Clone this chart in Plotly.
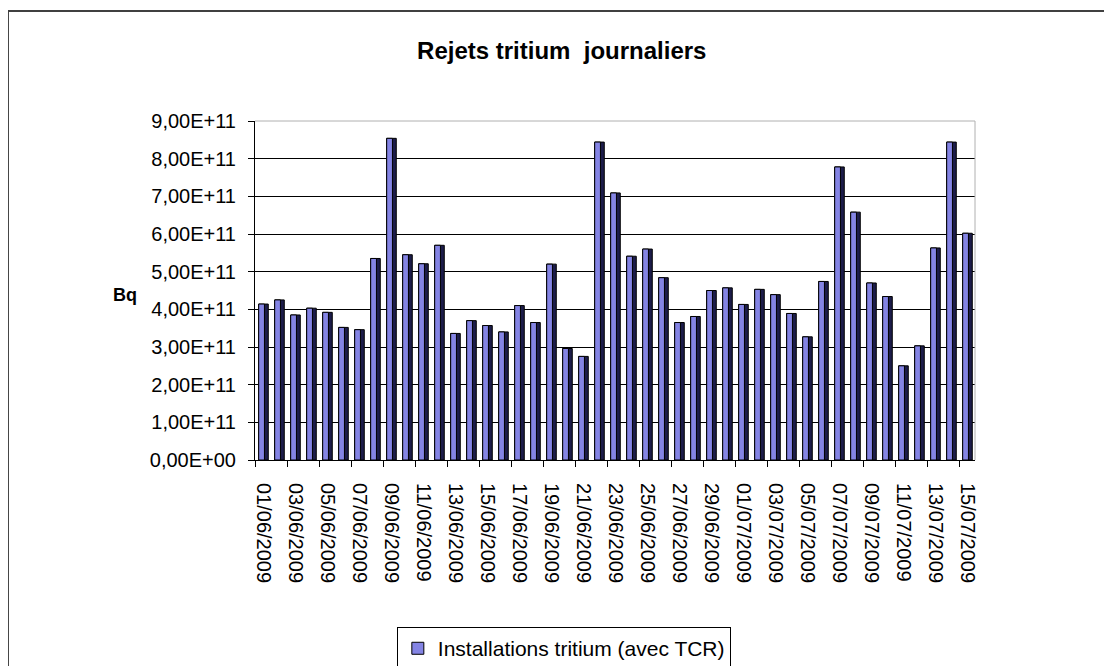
import plotly.graph_objects as go
from datetime import date, timedelta

# ---- data ----
start = date(2009, 6, 1)
dates = [(start + timedelta(days=i)).strftime("%d/%m/%Y") for i in range(45)]
values_e11 = [4.14, 4.25, 3.85, 4.03, 3.92, 3.52, 3.46, 5.35, 8.54, 5.45,
              5.21, 5.70, 3.36, 3.70, 3.57, 3.40, 4.10, 3.65, 5.20, 2.96,
              2.75, 8.44, 7.09, 5.41, 5.60, 4.84, 3.65, 3.81, 4.50, 4.57,
              4.13, 4.53, 4.39, 3.89, 3.27, 4.74, 7.78, 6.58, 4.70, 4.34,
              2.50, 3.03, 5.63, 8.44, 6.02]
values = [v * 1e11 for v in values_e11]
ytick_vals = [i * 1e11 for i in range(10)]
ytick_text = ["0,00E+00", "1,00E+11", "2,00E+11", "3,00E+11", "4,00E+11",
              "5,00E+11", "6,00E+11", "7,00E+11", "8,00E+11", "9,00E+11"]
series_name = "Installations tritium (avec TCR)"
title_text = "Rejets tritium  journaliers"

FONT = "Liberation Sans, Arial, sans-serif"

fig = go.Figure()
# dark side face (3D effect)
fig.add_trace(go.Bar(
    x=dates, y=values, width=0.6, offset=-0.27,
    marker=dict(color="#1c1c4a", line=dict(color="#000000", width=1)),
    showlegend=False, hoverinfo="skip"))
# front face
fig.add_trace(go.Bar(
    x=dates, y=values, width=0.36, offset=-0.27, name=series_name,
    marker=dict(color="#8484e4", line=dict(color="#000000", width=1))))

fig.update_layout(
    width=1112, height=666,
    margin=dict(l=247, r=145, t=113, b=214, autoexpand=False),
    paper_bgcolor="white", plot_bgcolor="white",
    barmode="overlay",
    font=dict(family=FONT, color="black", size=20),
    title=dict(text="<b>" + title_text + "</b>", x=0.498, xref="container",
               xanchor="center", y=1 - 43 / 666, yref="container", yanchor="middle",
               font=dict(family=FONT, size=24, color="black")),
    showlegend=True,
    legend=dict(x=0.197, y=-0.493, xanchor="left", yanchor="top",
                bordercolor="black", borderwidth=1, bgcolor="white",
                font=dict(family=FONT, size=21), itemwidth=30),
    xaxis=dict(type="category", tickmode="linear", tick0=0, dtick=2,
               tickson="boundaries", ticks="outside", ticklen=6,
               tickcolor="black", tickangle=90, showline=True,
               linecolor="black", linewidth=1, showgrid=False,
               tickfont=dict(family=FONT, size=20), ticklabelstandoff=18,
               range=[-0.5, 44.5], automargin=False),
    yaxis=dict(range=[0, 9e11], tickvals=ytick_vals, ticktext=ytick_text,
               ticks="outside", ticklen=6, tickcolor="black",
               showline=True, linecolor="black", linewidth=1,
               showgrid=True, gridcolor="black", gridwidth=1,
               zeroline=False, tickfont=dict(family=FONT, size=20),
               ticklabelstandoff=8, automargin=False),
)

# plot-area border (top and right light grey)
fig.add_shape(type="line", xref="paper", yref="paper", x0=0, x1=1, y0=1, y1=1,
              line=dict(color="#b0b0b0", width=1), layer="above")
fig.add_shape(type="line", xref="paper", yref="paper", x0=1, x1=1, y0=0, y1=1,
              line=dict(color="#b0b0b0", width=1), layer="above")
# outer chart border
fig.add_shape(type="line", xref="paper", yref="paper", x0=-0.3431, x1=1.19,
              y0=1.3245, y1=1.3245, line=dict(color="#404040", width=2))
fig.add_shape(type="line", xref="paper", yref="paper", x0=-0.3431, x1=-0.3431,
              y0=1.3245, y1=-0.8, line=dict(color="#404040", width=2))
fig.add_shape(type="line", xref="paper", yref="paper", x0=1.1875, x1=1.1875,
              y0=1.3245, y1=-0.8, line=dict(color="#d0d0d0", width=1))

fig.add_annotation(text="<b>Bq</b>", xref="paper", yref="paper",
                   x=-0.1806, y=0.487, xanchor="center", yanchor="middle",
                   showarrow=False,
                   font=dict(family=FONT, size=18, color="black"))

fig.write_html("out.html")
